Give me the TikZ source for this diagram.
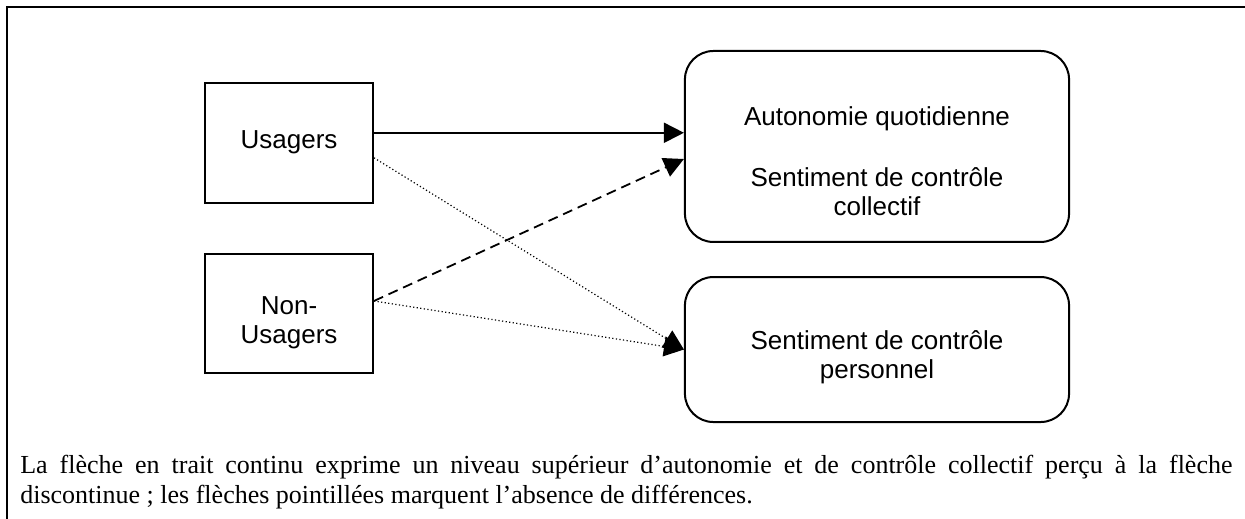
\documentclass[tikz,border=0pt]{standalone}
\usepackage{fontspec}
\setmainfont{Liberation Serif}
\setsansfont{Liberation Sans}
\usepackage{tikz}
\usetikzlibrary{arrows.meta}
\usetikzlibrary{positioning}
\tikzstyle{group}=[rectangle, draw=black, line width=1pt, minimum width=2.95cm, minimum height=2.1cm]
\tikzstyle{effect}=[rectangle, rounded corners=0.5cm, draw=black, line width=1pt, minimum width=6.75cm]
\tikzstyle{boxtext}=[inner sep=0pt, align=center, font=\sffamily\fontsize{13}{14.5}\selectfont]
\tikzset{>={Triangle[length=10pt,width=10pt]}}

\begin{document}
\begin{tikzpicture}
        \useasboundingbox (0,0) rectangle (21.878,-9.12);

        % Frame
        \draw [line width=1pt] (0.128,-9.2) -- (0.128,-0.128) -- (21.95,-0.128);

        % Groups
        \node at (5.079, -2.513) [group] (usagers) {};
        \node at (5.079, -5.509) [group, minimum height=2.09cm] (nonusagers) {};

        % Effects
        \node at (15.411, -2.574) [effect, minimum height=3.356cm] (collectif) {};
        \node at (15.411, -6.142) [effect, minimum height=2.548cm] (personnel) {};

        % Texts in the boxes
        \node [boxtext, anchor=north, below=0.84cm of usagers.north] (usagers_txt) {Usagers};
        \node [boxtext, anchor=north, below=0.76cm of nonusagers.north] (nonusagers_txt) {Non-\\Usagers};
        \node [boxtext, anchor=north, below=0.98cm of collectif.north] (collectif_txt)
          {Autonomie quotidienne\\[16pt]Sentiment de contrôle\\collectif};
        \node [boxtext, anchor=north, below=0.95cm of personnel.north] (personnel_txt)
          {Sentiment de contrôle\\personnel};

        % Arrows
        \draw [->, line width=0.9pt] ([yshift=0.18cm]usagers.east) to ([yshift=0.18cm]usagers.east -| collectif.west);
        \draw [->, line width=0.9pt, dash pattern=on 5pt off 3pt] ([yshift=0.22cm]nonusagers.east) to ([yshift=-0.22cm]collectif.west);
        \draw [->, line width=0.6pt, dash pattern=on 0.6pt off 1.2pt] ([yshift=-0.26cm]usagers.east) to (personnel.west);
        \draw [->, line width=0.6pt, dash pattern=on 0.6pt off 1.2pt] ([yshift=0.22cm]nonusagers.east) to (personnel.west);

        % Caption
        \node at (0.35, -8.0) [anchor=north west, inner sep=0pt, text width=21.30cm, align=justify,
          font=\fontsize{13}{15}\selectfont] (caption)
          {La flèche en trait continu exprime un niveau supérieur d’autonomie et de contrôle collectif perçu à la flèche\linebreak
           discontinue ; les flèches pointillées marquent l’absence de différences.};
      \end{tikzpicture}
\end{document}
